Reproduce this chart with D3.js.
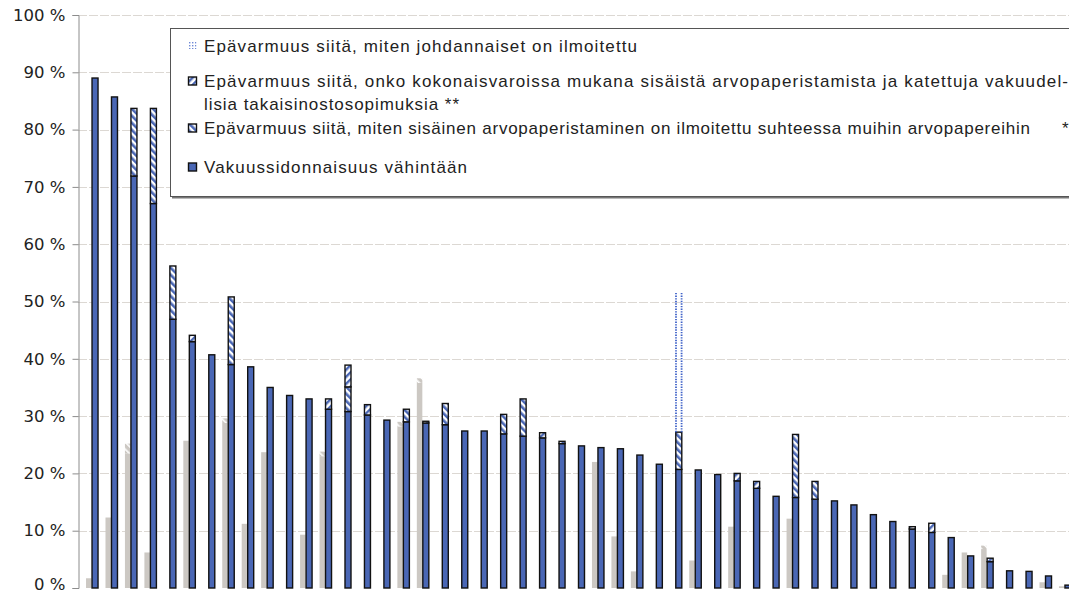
<!DOCTYPE html>
<html><head><meta charset="utf-8">
<script src="https://cdn.jsdelivr.net/npm/d3@7"></script>
<style>body{margin:0;background:#fff}</style>
</head><body><svg id="c" width="1069" height="594"></svg>
<script>
const categories = ["1","2","3","4","5","6","7","8","9","10","11","12","13","14","15","16","17","18","19","20","21","22","23","24","25","26","27","28","29","30","31","32","33","34","35","36","37","38","39","40","41","42","43","44","45","46","47","48","49","50","51"];
// Vakuussidonnaisuus vähintään
const baseValues = [89.0,85.7,71.9,67.1,46.9,43.0,40.7,39.0,38.6,35.0, 33.6,33.0,31.2,30.8,30.2,29.3,29.0,28.8,28.5,27.4, 27.4,26.9,26.5,26.2,25.2,24.8,24.5,24.3,23.2,21.6, 20.7,20.6,19.8,18.7,17.4,16.0,15.8,15.5,15.2,14.5, 12.8,11.6,10.3,9.7,8.8,5.6,4.6,3.0,2.9,2.1, 0.5];
// Epävarmuus: sisäinen arvopaperistaminen (*)
const sisainenValues = [0,0,11.8,16.6,9.3,0,0,11.8,0,0, 0,0,0,4.3,0,0,2.2,0,3.7,0, 0,3.4,6.5,0,0,0,0,0,0,0, 6.5,0,0,0,0,0,11.0,3.1,0,0, 0,0,0,0,0,0,0,0,0,0, 0];
// Epävarmuus: kokonaisvaroissa (**)
const kokonaisValues = [0,0,0,0,0,1.1,0,0,0,0, 0,0,1.8,3.8,1.8,0,0,0.3,0,0, 0,0,0,0.9,0.4,0,0,0,0,0, 0,0,0,1.3,1.2,0,0,0,0,0, 0,0,0.4,1.6,0,0,0.6,0,0,0, 0];
// Epävarmuus: johdannaiset
const johdValues = [0,0,0,0,0,0,0,0,0,0, 0,0,0,0,0,0,0,0,0,0, 0,0,0,0,0,0,0,0,0,0, 24.3,0,0,0,0,0,0,0,0,0, 0,0,0,0,0,0,0,0,0,0, 0];
// Gray comparison bars
const grayBase = [1.7,12.3,23.5,6.2,0,25.7,0,28.8,11.2,23.7, 0,9.3,23.0,0,0,0,28.2,35.8,0,0, 0,0,0,0,0,0,22.0,9.0,2.9,0, 0,4.8,0,10.7,0,0,12.1,0,0,0, 0,0,0,0,2.3,6.2,6.8,0,0,1.0, 0.3];
const grayUncert = [0,0,1.7,0,0,0,0,0.8,0,0, 0,0,0.8,0,0,0,0.8,0.8,0,0, 0,0,0,0,0,0,0,0,0,0, 0,0,0,0,0,0,0,0,0,0, 0,0,0,0,0,0,0.6,0,0,0, 0];
const yTicks = [0,10,20,30,40,50,60,70,80,90,100];
const legendLines = [
  "Epävarmuus siitä, miten johdannaiset on ilmoitettu",
  "Epävarmuus siitä, onko kokonaisvaroissa mukana sisäistä arvopaperistamista ja katettuja vakuudel-",
  "lisia takaisinostosopimuksia **",
  "Epävarmuus siitä, miten sisäinen arvopaperistaminen on ilmoitettu suhteessa muihin arvopapereihin",
  "Vakuussidonnaisuus vähintään"
];

const BLUE = "#4a67b5", GRAY = "#ccc8c3", INK = "#222";
const svg = d3.select("#c");
const defs = svg.append("defs");
function stripe(id, bg, fg, w, rot){
  const p = defs.append("pattern").attr("id", id).attr("patternUnits","userSpaceOnUse")
    .attr("width",5).attr("height",5).attr("patternTransform",`rotate(${rot})`);
  p.append("rect").attr("width",5).attr("height",5).attr("fill",bg);
  p.append("rect").attr("width",w).attr("height",5).attr("fill",fg);
}
stripe("hatchS", "#fff", BLUE, 2.6, -45);
stripe("hatchK", "#fff", BLUE, 2.4, 45);
stripe("hatchG", GRAY, "#fff", 1.6, -45);
const dp = defs.append("pattern").attr("id","dots").attr("patternUnits","userSpaceOnUse").attr("width",3).attr("height",3);
dp.append("rect").attr("width",1.4).attr("height",1.4).attr("fill","#6f8ad6");

const y = d3.scaleLinear().domain([0,100]).range([588,15]);
const x = d3.scaleBand().domain(categories).range([85.3,1077.7]).padding(0);
const cx = c => x(c) + x.bandwidth()/2;

// gridlines
svg.append("g").selectAll("line").data(yTicks.filter(d=>d>0)).join("line")
  .attr("x1",78).attr("x2",1069).attr("y1",d=>Math.round(y(d))+0.5).attr("y2",d=>Math.round(y(d))+0.5)
  .attr("stroke","#dcd8d3").attr("stroke-width",1.2).attr("stroke-dasharray","9,2");

// axis
const ax = svg.append("g").attr("transform","translate(78.5,0)")
  .call(d3.axisLeft(y).tickValues(yTicks).tickSize(6).tickPadding(8).tickFormat(d=>d+" %"));
ax.select(".domain").attr("stroke","#8c8c8c");
ax.selectAll(".tick line").attr("stroke","#8c8c8c");
ax.selectAll(".tick text").attr("font-family","DejaVu Sans, sans-serif").attr("font-size",16.5).attr("fill",INK).attr("x",-13)
  .attr("dy",d=>d===0?"0.08em":"0.32em");

// gray bars
const rows = categories.map((c,i)=>({cat:c, base:baseValues[i], sisainen:sisainenValues[i], kokonais:kokonaisValues[i], johd:johdValues[i], g:grayBase[i], gu:grayUncert[i]}));
const gG = svg.append("g");
gG.selectAll("rect.gb").data(rows.filter(r=>r.g>0)).join("rect")
  .attr("x",r=>cx(r.cat)-9).attr("width",5.5)
  .attr("y",r=>y(r.g)).attr("height",r=>y(0)-y(r.g)).attr("fill",GRAY);
gG.selectAll("rect.gu").data(rows.filter(r=>r.gu>0)).join("rect")
  .attr("x",r=>cx(r.cat)-9).attr("width",5.5)
  .attr("y",r=>y(r.g+r.gu)).attr("height",r=>y(r.g)-y(r.g+r.gu)).attr("fill","url(#hatchG)");

// stacked blue bars
const keys = ["base","sisainen","kokonais","johd"];
const fills = {base:BLUE, sisainen:"url(#hatchS)", kokonais:"url(#hatchK)"};
const series = d3.stack().keys(keys)(rows);
const bg = svg.append("g");
series.forEach(s=>{
  const k = s.key;
  const segs = s.filter(d=>d[1]-d[0]>0);
  if(k==="johd"){
    segs.forEach(d=>{
      const c = cx(d.data.cat);
      [c-2.8, c+2.8].forEach(xx=>{
        bg.append("line").attr("x1",xx).attr("x2",xx).attr("y1",y(d[0])).attr("y2",y(d[1]))
          .attr("stroke","#3f62c8").attr("stroke-width",1.8).attr("stroke-dasharray","1.4,1.2");
      });
    });
  } else {
    bg.selectAll(null).data(segs).join("rect")
      .attr("x",d=>cx(d.data.cat)-3).attr("width",6)
      .attr("y",d=>y(d[1])).attr("height",d=>y(d[0])-y(d[1]))
      .attr("fill",fills[k]).attr("stroke","#111").attr("stroke-width",1.4);
  }
});

// legend
const lg = svg.append("g");
lg.append("rect").attr("x",172).attr("y",30.5).attr("width",920).attr("height",168).attr("fill","#777");
lg.append("rect").attr("x",170.5).attr("y",28.5).attr("width",920).attr("height",168).attr("fill","#fff").attr("stroke","#555").attr("stroke-width",1);
const iconX = 188.5, iS = 8;
lg.append("rect").attr("x",iconX).attr("y",41).attr("width",iS).attr("height",iS).attr("fill","url(#dots)");
[[77,"url(#hatchK)"],[124,"url(#hatchS)"],[163,BLUE]].forEach(([yy,f])=>{
  lg.append("rect").attr("x",iconX).attr("y",yy).attr("width",iS).attr("height",iS).attr("fill",f).attr("stroke","#111").attr("stroke-width",1.4);
});
const txt = [[legendLines[0],51.5,433],[legendLines[1],87,864],[legendLines[2],109.5,255],[legendLines[3],133.5,826],[legendLines[4],172.5,263]];
txt.forEach(([t,yy,len])=>{
  lg.append("text").attr("x",204).attr("y",yy).attr("textLength",len).attr("lengthAdjust","spacing")
    .attr("font-family","Liberation Sans, Arial, sans-serif").attr("font-size",17).attr("fill",INK).text(t);
});
lg.append("text").attr("x",1062).attr("y",133.5).attr("font-family","Liberation Sans, Arial, sans-serif").attr("font-size",17).attr("fill",INK).text("*");
</script></body></html>
